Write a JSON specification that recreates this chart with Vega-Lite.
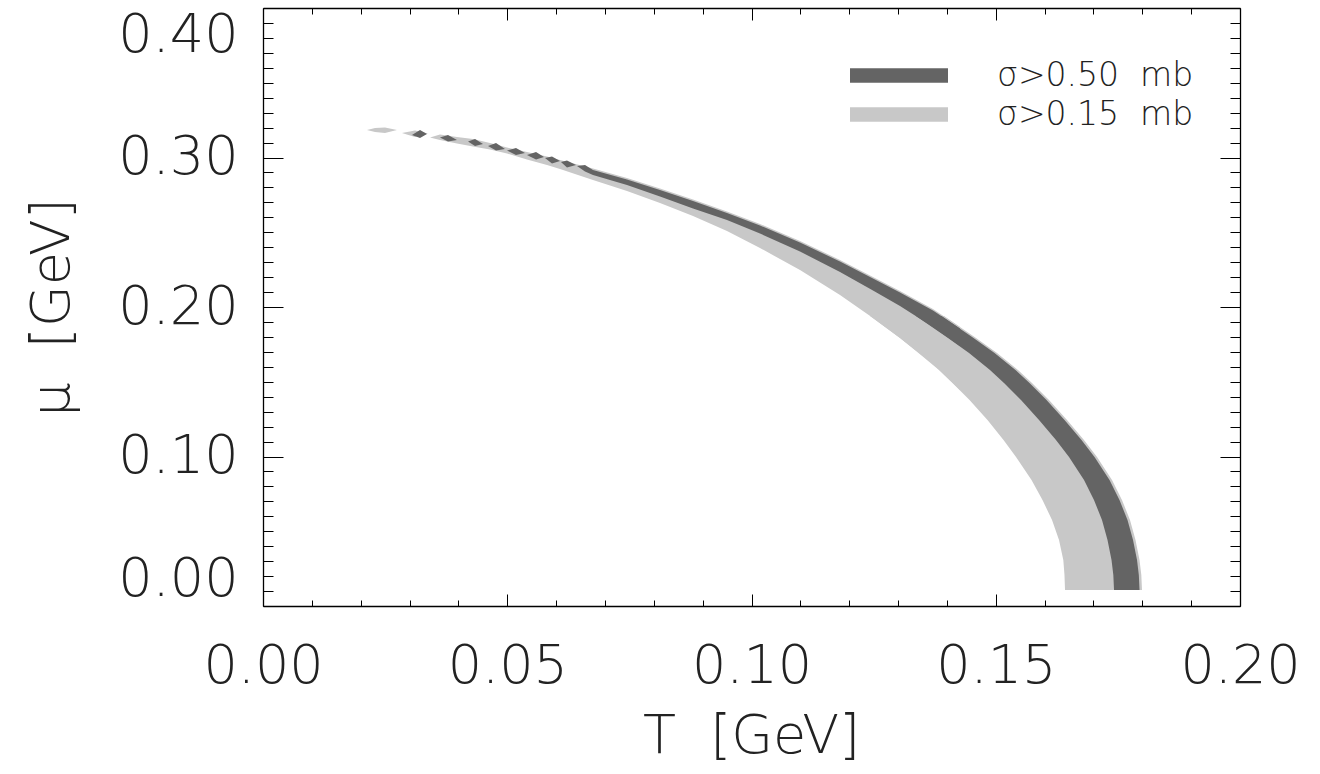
{
  "$schema": "https://vega.github.io/schema/vega-lite/v6.json",
  "width": 977,
  "height": 598,
  "autosize": {"type": "none"},
  "padding": {"left": 263, "top": 8, "right": 80, "bottom": 168},
  "background": "white",
  "config": {
    "view": {"stroke": null},
    "axis": {
      "grid": false,
      "domainColor": "black",
      "domainWidth": 1.3,
      "tickColor": "black",
      "tickWidth": 1,
      "labelFont": "DejaVu Sans",
      "labelFontWeight": 200,
      "labelFontSize": 54,
      "labelColor": "#222222",
      "titleFont": "DejaVu Sans",
      "titleFontWeight": 200,
      "titleFontSize": 54,
      "titleColor": "#222222",
      "labelOverlap": false
    }
  },
  "datasets": {
    "lightV": [
      {"T": 0.02129, "hi": 0.31839, "lo": 0.31839},
      {"T": 0.02293, "hi": 0.31973, "lo": 0.31706},
      {"T": 0.02497, "hi": 0.32007, "lo": 0.31639},
      {"T": 0.02743, "hi": 0.31839, "lo": 0.31839},
      {"T": 0.0279, "hi": null, "lo": null},
      {"T": 0.02845, "hi": 0.31639, "lo": 0.31639},
      {"T": 0.03112, "hi": 0.31806, "lo": 0.31371},
      {"T": 0.03378, "hi": 0.31605, "lo": 0.31605},
      {"T": 0.0340, "hi": null, "lo": null},
      {"T": 0.03419, "hi": 0.31338, "lo": 0.31338},
      {"T": 0.03623, "hi": 0.31538, "lo": 0.31171},
      {"T": 0.03971, "hi": 0.31371, "lo": 0.30936},
      {"T": 0.04299, "hi": 0.31237, "lo": 0.30736},
      {"T": 0.04647, "hi": 0.30970, "lo": 0.30535},
      {"T": 0.04995, "hi": 0.30669, "lo": 0.30268},
      {"T": 0.05404, "hi": 0.30368, "lo": 0.29866},
      {"T": 0.05814, "hi": 0.30067, "lo": 0.29498},
      {"T": 0.06080, "hi": 0.29833, "lo": 0.29231},
      {"T": 0.06755, "hi": 0.29264, "lo": 0.28495},
      {"T": 0.07451, "hi": 0.28629, "lo": 0.27759},
      {"T": 0.08127, "hi": 0.27926, "lo": 0.26957},
      {"T": 0.08803, "hi": 0.27191, "lo": 0.26087},
      {"T": 0.09498, "hi": 0.26388, "lo": 0.25084},
      {"T": 0.10174, "hi": 0.25552, "lo": 0.23946},
      {"T": 0.10993, "hi": 0.24415, "lo": 0.22475},
      {"T": 0.11812, "hi": 0.23144, "lo": 0.20803},
      {"T": 0.12487, "hi": 0.22007, "lo": 0.19264},
      {"T": 0.13040, "hi": 0.21070, "lo": 0.17926},
      {"T": 0.13715, "hi": 0.19866, "lo": 0.16187},
      {"T": 0.14268, "hi": 0.18662, "lo": 0.14448}
    ],
    "lightH": [
      {"mu": 0.19398, "Tlo": 0.12426, "Thi": 0.13941},
      {"mu": 0.18662, "Tlo": 0.12733, "Thi": 0.14268},
      {"mu": 0.17926, "Tlo": 0.13040, "Thi": 0.14596},
      {"mu": 0.16923, "Tlo": 0.13419, "Thi": 0.15026},
      {"mu": 0.15786, "Tlo": 0.13838, "Thi": 0.15455},
      {"mu": 0.14916, "Tlo": 0.14115, "Thi": 0.15742},
      {"mu": 0.13779, "Tlo": 0.14463, "Thi": 0.16090},
      {"mu": 0.12441, "Tlo": 0.14831, "Thi": 0.16459},
      {"mu": 0.11104, "Tlo": 0.15159, "Thi": 0.16806},
      {"mu": 0.09967, "Tlo": 0.15415, "Thi": 0.17073},
      {"mu": 0.08428, "Tlo": 0.15732, "Thi": 0.17380},
      {"mu": 0.07090, "Tlo": 0.15957, "Thi": 0.17584},
      {"mu": 0.05753, "Tlo": 0.16152, "Thi": 0.17748},
      {"mu": 0.04415, "Tlo": 0.16295, "Thi": 0.17861},
      {"mu": 0.03077, "Tlo": 0.16383, "Thi": 0.17943},
      {"mu": 0.02074, "Tlo": 0.16407, "Thi": 0.17980},
      {"mu": 0.01070, "Tlo": 0.16418, "Thi": 0.17994}
    ],
    "darkV": [
      {"T": 0.03050, "hi": 0.31505, "lo": 0.31505},
      {"T": 0.03214, "hi": 0.31839, "lo": 0.31304},
      {"T": 0.03357, "hi": 0.31572, "lo": 0.31572},
      {"T": 0.0345, "hi": null, "lo": null},
      {"T": 0.03623, "hi": 0.31338, "lo": 0.31338},
      {"T": 0.03787, "hi": 0.31505, "lo": 0.31070},
      {"T": 0.03971, "hi": 0.31171, "lo": 0.31171},
      {"T": 0.0408, "hi": null, "lo": null},
      {"T": 0.04197, "hi": 0.31070, "lo": 0.31070},
      {"T": 0.04340, "hi": 0.31237, "lo": 0.30769},
      {"T": 0.04504, "hi": 0.30903, "lo": 0.30903},
      {"T": 0.0456, "hi": null, "lo": null},
      {"T": 0.04606, "hi": 0.30769, "lo": 0.30769},
      {"T": 0.04770, "hi": 0.30970, "lo": 0.30468},
      {"T": 0.04954, "hi": 0.30569, "lo": 0.30569},
      {"T": 0.04975, "hi": null, "lo": null},
      {"T": 0.04995, "hi": 0.30468, "lo": 0.30468},
      {"T": 0.05179, "hi": 0.30635, "lo": 0.30167},
      {"T": 0.05363, "hi": 0.30301, "lo": 0.30301},
      {"T": 0.05384, "hi": null, "lo": null},
      {"T": 0.05404, "hi": 0.30167, "lo": 0.30167},
      {"T": 0.05589, "hi": 0.30368, "lo": 0.29866},
      {"T": 0.05752, "hi": 0.30033, "lo": 0.30033},
      {"T": 0.05763, "hi": null, "lo": null},
      {"T": 0.05773, "hi": 0.29967, "lo": 0.29967},
      {"T": 0.05916, "hi": 0.30067, "lo": 0.29599},
      {"T": 0.06080, "hi": 0.29766, "lo": 0.29766},
      {"T": 0.0609, "hi": null, "lo": null},
      {"T": 0.06100, "hi": 0.29699, "lo": 0.29699},
      {"T": 0.06223, "hi": 0.29799, "lo": 0.29331},
      {"T": 0.06407, "hi": 0.29498, "lo": 0.29498},
      {"T": 0.06418, "hi": null, "lo": null},
      {"T": 0.06428, "hi": 0.29431, "lo": 0.29431},
      {"T": 0.06592, "hi": 0.29498, "lo": 0.29064},
      {"T": 0.06755, "hi": 0.29164, "lo": 0.28829},
      {"T": 0.07451, "hi": 0.28528, "lo": 0.28161},
      {"T": 0.08127, "hi": 0.27826, "lo": 0.27391},
      {"T": 0.08803, "hi": 0.27090, "lo": 0.26589},
      {"T": 0.09498, "hi": 0.26288, "lo": 0.25819},
      {"T": 0.10174, "hi": 0.25452, "lo": 0.24916},
      {"T": 0.10993, "hi": 0.24314, "lo": 0.23712},
      {"T": 0.11812, "hi": 0.23043, "lo": 0.22341},
      {"T": 0.12487, "hi": 0.21906, "lo": 0.21104},
      {"T": 0.13040, "hi": 0.20970, "lo": 0.20067},
      {"T": 0.13715, "hi": 0.19766, "lo": 0.18662},
      {"T": 0.14268, "hi": 0.18562, "lo": 0.17391}
    ],
    "darkH": [
      {"mu": 0.19398, "Tlo": 0.13368, "Thi": 0.13890},
      {"mu": 0.18662, "Tlo": 0.13695, "Thi": 0.14217},
      {"mu": 0.17926, "Tlo": 0.14023, "Thi": 0.14545},
      {"mu": 0.16923, "Tlo": 0.14453, "Thi": 0.14975},
      {"mu": 0.15786, "Tlo": 0.14882, "Thi": 0.15404},
      {"mu": 0.14916, "Tlo": 0.15169, "Thi": 0.15691},
      {"mu": 0.13779, "Tlo": 0.15517, "Thi": 0.16039},
      {"mu": 0.12441, "Tlo": 0.15886, "Thi": 0.16408},
      {"mu": 0.11104, "Tlo": 0.16233, "Thi": 0.16755},
      {"mu": 0.09967, "Tlo": 0.16500, "Thi": 0.17022},
      {"mu": 0.08428, "Tlo": 0.16807, "Thi": 0.17329},
      {"mu": 0.07090, "Tlo": 0.17011, "Thi": 0.17533},
      {"mu": 0.05753, "Tlo": 0.17175, "Thi": 0.17697},
      {"mu": 0.04415, "Tlo": 0.17288, "Thi": 0.17810},
      {"mu": 0.03077, "Tlo": 0.17370, "Thi": 0.17892},
      {"mu": 0.02074, "Tlo": 0.17407, "Thi": 0.17929},
      {"mu": 0.01070, "Tlo": 0.17421, "Thi": 0.17943}
    ]
  },
  "resolve": {"axis": {"x": "independent", "y": "independent"}},
  "layer": [
    {
      "data": {"name": "lightV"},
      "mark": {"type": "area", "orient": "vertical"},
      "encoding": {
        "x": {
          "field": "T", "type": "quantitative",
          "scale": {"domain": [0, 0.2], "nice": false, "zero": false},
          "axis": {
            "orient": "bottom",
            "values": [0, 0.01, 0.02, 0.03, 0.04, 0.05, 0.06, 0.07, 0.08, 0.09, 0.1, 0.11, 0.12, 0.13, 0.14, 0.15, 0.16, 0.17, 0.18, 0.19, 0.2],
            "labelExpr": "abs(datum.value*20-round(datum.value*20))<0.01 ? format(datum.value,'.2f') : ''",
            "tickSize": {"condition": {"test": "abs(datum.value*20-round(datum.value*20))<0.01", "value": -12}, "value": -6},
            "labelPadding": 88,
            "labelBaseline": "alphabetic",
            "labelFlush": false,
            "title": "T\u00a0\u00a0[GeV]",
            "titleX": 488,
            "titleY": 146,
            "titleBaseline": "alphabetic",
            "titleAlign": "center"
          }
        },
        "y": {
          "field": "hi", "type": "quantitative",
          "scale": {"domain": [0, 0.4], "nice": false, "zero": false},
          "axis": {
            "orient": "left",
            "values": [0, 0.01, 0.02, 0.03, 0.04, 0.05, 0.06, 0.07, 0.08, 0.09, 0.1, 0.11, 0.12, 0.13, 0.14, 0.15, 0.16, 0.17, 0.18, 0.19, 0.2, 0.21, 0.22, 0.23, 0.24, 0.25, 0.26, 0.27, 0.28, 0.29, 0.3, 0.31, 0.32, 0.33, 0.34, 0.35, 0.36, 0.37, 0.38, 0.39, 0.4],
            "labelExpr": "abs(datum.value*10-round(datum.value*10))<0.01 ? format(datum.value,'.2f') : ''",
            "tickSize": {"condition": {"test": "abs(datum.value*10-round(datum.value*10))<0.01", "value": -20}, "value": -10},
            "labelPadding": 45,
            "labelFlush": true,
            "title": "μ\u00a0\u00a0[GeV]",
            "titleX": -195,
            "titleY": 299,
            "titleAngle": -90,
            "titleBaseline": "alphabetic",
            "titleAlign": "center"
          }
        },
        "y2": {"field": "lo"},
        "color": {
          "datum": "σ>0.15 mb", "type": "nominal",
          "scale": {"domain": ["σ>0.50 mb", "σ>0.15 mb"], "range": ["#646464", "#c8c8c8"]},
          "legend": {
            "title": null,
            "orient": "none",
            "legendX": 619.5,
            "legendY": 51,
            "direction": "vertical",
            "symbolType": "M-6.125,-0.92H6.125V0.92H-6.125Z",
            "symbolSize": 256,
            "symbolStrokeWidth": 0,
            "symbolOpacity": 1,
            "labelFont": "DejaVu Sans",
            "labelFontSize": 33,
            "labelFontWeight": 200,
            "labelColor": "#222222",
            "labelOffset": 81.5,
            "labelExpr": "replace(datum.label, ' ', '\u00a0\u00a0')",
            "rowPadding": 5,
            "padding": 0,
            "labelLimit": 600
          }
        }
      }
    },
    {
      "data": {"name": "lightH"},
      "mark": {"type": "area", "orient": "horizontal"},
      "encoding": {
        "y": {
          "field": "mu", "type": "quantitative",
          "scale": {"domain": [0, 0.4], "nice": false, "zero": false},
          "axis": {
            "orient": "right",
            "values": [0, 0.01, 0.02, 0.03, 0.04, 0.05, 0.06, 0.07, 0.08, 0.09, 0.1, 0.11, 0.12, 0.13, 0.14, 0.15, 0.16, 0.17, 0.18, 0.19, 0.2, 0.21, 0.22, 0.23, 0.24, 0.25, 0.26, 0.27, 0.28, 0.29, 0.3, 0.31, 0.32, 0.33, 0.34, 0.35, 0.36, 0.37, 0.38, 0.39, 0.4],
            "labels": false,
            "tickSize": {"condition": {"test": "abs(datum.value*10-round(datum.value*10))<0.01", "value": -20}, "value": -10},
            "title": null
          }
        },
        "x": {
          "field": "Tlo", "type": "quantitative",
          "scale": {"domain": [0, 0.2], "nice": false, "zero": false},
          "axis": {
            "orient": "top",
            "values": [0, 0.01, 0.02, 0.03, 0.04, 0.05, 0.06, 0.07, 0.08, 0.09, 0.1, 0.11, 0.12, 0.13, 0.14, 0.15, 0.16, 0.17, 0.18, 0.19, 0.2],
            "labels": false,
            "tickSize": {"condition": {"test": "abs(datum.value*20-round(datum.value*20))<0.01", "value": -12}, "value": -6},
            "title": null
          }
        },
        "x2": {"field": "Thi"},
        "color": {
          "datum": "σ>0.15 mb", "type": "nominal",
          "scale": {"domain": ["σ>0.50 mb", "σ>0.15 mb"], "range": ["#646464", "#c8c8c8"]}
        }
      }
    },
    {
      "data": {"name": "darkV"},
      "mark": {"type": "area", "orient": "vertical"},
      "encoding": {
        "x": {"field": "T", "type": "quantitative", "scale": {"domain": [0, 0.2], "nice": false, "zero": false}, "axis": null},
        "y": {"field": "hi", "type": "quantitative", "scale": {"domain": [0, 0.4], "nice": false, "zero": false}, "axis": null},
        "y2": {"field": "lo"},
        "color": {
          "datum": "σ>0.50 mb", "type": "nominal",
          "scale": {"domain": ["σ>0.50 mb", "σ>0.15 mb"], "range": ["#646464", "#c8c8c8"]}
        }
      }
    },
    {
      "data": {"name": "darkH"},
      "mark": {"type": "area", "orient": "horizontal"},
      "encoding": {
        "y": {"field": "mu", "type": "quantitative", "scale": {"domain": [0, 0.4], "nice": false, "zero": false}, "axis": null},
        "x": {"field": "Tlo", "type": "quantitative", "scale": {"domain": [0, 0.2], "nice": false, "zero": false}, "axis": null},
        "x2": {"field": "Thi"},
        "color": {
          "datum": "σ>0.50 mb", "type": "nominal",
          "scale": {"domain": ["σ>0.50 mb", "σ>0.15 mb"], "range": ["#646464", "#c8c8c8"]}
        }
      }
    }
  ]
}
